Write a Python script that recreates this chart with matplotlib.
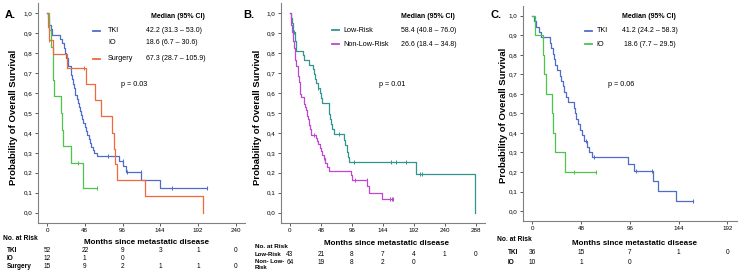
import numpy as np
import matplotlib
matplotlib.use("Agg")
import matplotlib.pyplot as plt
import matplotlib.transforms as mtransforms
from matplotlib.lines import Line2D

plt.rcParams['font.family'] = ['Liberation Sans', 'DejaVu Sans']

# ---- data ----
# panel A
a_tki_t = [1, 2, 3, 5, 6, 17, 19, 21, 23, 24, 26, 27, 30, 31, 32, 33, 34, 35, 36, 38, 39, 40,
           42, 43, 45, 46, 48, 50, 51, 53, 54, 56, 58, 60, 63, 92, 97, 101, 120, 144]
a_tki_s = [0.98, 0.96, 0.94, 0.92, 0.893, 0.873, 0.854, 0.827, 0.80, 0.776, 0.755, 0.735, 0.714,
           0.69, 0.67, 0.645, 0.626, 0.607, 0.588, 0.569, 0.55, 0.53, 0.51, 0.49, 0.47, 0.45,
           0.43, 0.41, 0.39, 0.37, 0.35, 0.33, 0.315, 0.30, 0.285, 0.26, 0.235, 0.205, 0.163, 0.125]
a_tki_c = [77, 96, 102, 119, 159, 203]
a_io_t = [2, 5, 7, 8, 9, 18, 19, 20, 30, 46]
a_io_s = [0.917, 0.833, 0.75, 0.667, 0.583, 0.5, 0.417, 0.333, 0.25, 0.125]
a_io_c = [39, 63]
a_sur_t = [1, 2, 7, 25, 49, 61, 68, 83, 85, 87, 89, 125, 199]
a_sur_s = [0.933, 0.867, 0.795, 0.724, 0.644, 0.565, 0.483, 0.40, 0.32, 0.245, 0.163, 0.081, 0.0]
a_sur_c = [3, 47]

# panel B
b_low_t = [1, 3, 4, 5, 7, 8, 9, 10, 20, 22, 29, 35, 37, 39, 41, 43, 46, 48, 49, 60,
           61, 62, 63, 65, 69, 83, 85, 88, 90, 91, 196, 287]
b_low_s = [0.977, 0.953, 0.93, 0.907, 0.883, 0.86, 0.836, 0.813, 0.79, 0.766, 0.743, 0.72,
           0.696, 0.673, 0.65, 0.626, 0.60, 0.576, 0.55, 0.522, 0.497, 0.47, 0.445, 0.42,
           0.394, 0.364, 0.339, 0.306, 0.278, 0.252, 0.193, 0.0]
b_low_c = [6, 44, 76, 100, 156, 165, 180, 202, 205]
b_non_t = [1, 2, 3, 4, 5, 6, 7, 8, 10, 12, 13, 14, 15, 16, 17, 21, 22, 24, 25, 26, 27, 28,
           29, 30, 31, 32, 33, 40, 42, 44, 46, 48, 50, 52, 55, 58, 61, 94, 96, 120, 123, 143]
b_non_s = [0.97, 0.94, 0.906, 0.875, 0.86, 0.828, 0.797, 0.766, 0.734, 0.703, 0.688, 0.656,
           0.625, 0.594, 0.578, 0.562, 0.547, 0.531, 0.515, 0.50, 0.484, 0.469, 0.453, 0.438,
           0.422, 0.406, 0.39, 0.374, 0.358, 0.342, 0.326, 0.31, 0.29, 0.272, 0.25, 0.23,
           0.208, 0.187, 0.165, 0.133, 0.10, 0.068]
b_non_c = [37, 53, 101, 119, 155, 158, 160]

# panel C
c_tki_t = [2, 4, 6, 8, 17.5, 18.5, 20, 21, 22, 24, 27, 28, 30, 31, 33, 35, 41, 42, 43, 45,
           47, 49, 51, 54, 56, 59, 94, 100, 119, 124, 141]
c_tki_s = [0.972, 0.944, 0.917, 0.889, 0.861, 0.833, 0.806, 0.778, 0.75, 0.722, 0.694, 0.667,
           0.639, 0.611, 0.583, 0.556, 0.528, 0.5, 0.472, 0.444, 0.417, 0.389, 0.361, 0.33,
           0.303, 0.275, 0.24, 0.205, 0.154, 0.103, 0.051]
c_tki_c = [53, 61, 102, 118, 158]
c_io_t = [3, 10, 11, 13, 19, 20, 22, 32]
c_io_s = [0.9, 0.8, 0.7, 0.6, 0.5, 0.4, 0.3, 0.2]
c_io_c = [41, 63]

# numbers at risk
a_ticks = [0, 48, 96, 144, 192, 240]
a_risk = {"TKI": [52, 22, 9, 3, 1, 0], "IO": [12, 1, 0], "Surgery": [15, 9, 2, 1, 1, 0]}
b_ticks = [0, 48, 96, 144, 192, 240, 288]
b_risk = {"Low-Risk": [43, 21, 8, 7, 4, 1, 0], "Non-Low-Risk": [64, 19, 8, 2, 0]}
c_ticks = [0, 48, 96, 144, 192]
c_risk = {"TKI": [36, 15, 7, 1, 0], "IO": [10, 1, 0]}

a_median = ["42.2 (31.3 \u2013 53.0)", "18.6 (6.7 \u2013 30.6)", "67.3 (28.7 \u2013 105.9)"]
b_median = ["58.4 (40.8 \u2013 76.0)", "26.6 (18.4 \u2013 34.8)"]
c_median = ["41.2 (24.2 \u2013 58.3)", " 18.6 (7.7 \u2013 29.5)"]

BLUE = '#4f6cc8'
GREEN = '#4cc54c'
ORANGE = '#f0683e'
TEAL = '#2e968e'
MAGENTA = '#bf45d2'

W, H = 750, 274
fig = plt.figure(figsize=(7.5, 2.74), dpi=100)


def fx(p):
    return p / W


def fy(p):
    return 1 - p / H


def km(ax, t, s, cens, color):
    t = np.array([0] + list(t), dtype=float)
    s = np.array([1.0] + list(s))
    end = max(t[-1], max(cens))
    ax.step(np.append(t, end), np.append(s, s[-1]), where='post', color=color, lw=0.9)
    idx = np.searchsorted(t, cens, side='right') - 1
    ax.plot(cens, s[idx], ls='none', marker='|', ms=3.2, mew=0.7, color=color)


def setup(ax, ticks):
    for sp in ['top', 'right']:
        ax.spines[sp].set_visible(False)
    for sp in ['left', 'bottom']:
        ax.spines[sp].set_color('#808080')
        ax.spines[sp].set_linewidth(0.8)
    span = ticks[-1]
    ax.set_xlim(-0.05 * span, 1.05 * span)
    ax.set_ylim(-0.05, 1.05)
    ax.set_xticks(ticks)
    ax.set_yticks(np.arange(0, 1.01, 0.1))
    ax.set_yticklabels([f"{v:.1f}".replace('.', ',') for v in np.arange(0, 1.01, 0.1)])
    ax.tick_params(labelsize=4.5, length=2.5, width=0.6, pad=1.5, color='#404040')


def txt(x, y, s, **kw):
    fig.text(fx(x), fy(y), s, va='center', **kw)


def legline(x1, x2, y, color):
    fig.add_artist(Line2D([fx(x1), fx(x2)], [fy(y), fy(y)], color=color, lw=1.3,
                          transform=fig.transFigure))


def risk_row(ax, ticks, vals, y):
    tr = mtransforms.blended_transform_factory(ax.transData, fig.transFigure)
    for tk, v in zip(ticks, vals):
        ax.text(tk, fy(y), str(v), transform=tr, ha='center', va='center', fontsize=4.7,
                clip_on=False)


# ---- panel A ----
axA = fig.add_axes([fx(37.7), fy(222.5), fx(245 - 37.7), (222.5 - 3.5) / H])
setup(axA, a_ticks)
km(axA, a_tki_t, a_tki_s, a_tki_c, BLUE)
km(axA, a_io_t, a_io_s, a_io_c, GREEN)
km(axA, a_sur_t, a_sur_s, a_sur_c, ORANGE)
txt(5, 15, "A.", fontsize=8, fontweight='bold')
txt(14, 117, "Probability of Overall Survival", fontsize=6.8, fontweight='bold',
    rotation=90, ha='center')
txt(178, 16, "Median (95% CI)", fontsize=5, fontweight='bold', ha='center')
legline(93, 100, 31, BLUE)
legline(93, 100, 59, ORANGE)
for lab, med, y in zip(["TKI", "IO", "Surgery"], a_median, [31, 43, 59]):
    txt(108, y, lab, fontsize=5.2)
    txt(146, y, med, fontsize=5)
txt(121, 85, "p = 0.03", fontsize=5.2)
txt(146, 243, "Months since metastatic disease", fontsize=5.8, fontweight='bold', ha='center')
txt(3, 239, "No. at Risk", fontsize=4.8, fontweight='bold')
for (lab, vals), y in zip(a_risk.items(), [250.7, 258.3, 266]):
    txt(7, y, lab, fontsize=4.7, fontweight='bold')
    risk_row(axA, a_ticks, vals, y)

# ---- panel B ----
axB = fig.add_axes([fx(280.7), fy(222.5), fx(485 - 280.7), (222.5 - 3.5) / H])
setup(axB, b_ticks)
km(axB, b_low_t, b_low_s, b_low_c, TEAL)
km(axB, b_non_t, b_non_s, b_non_c, MAGENTA)
txt(243, 15, "B.", fontsize=8, fontweight='bold')
txt(258, 117, "Probability of Overall Survival", fontsize=6.8, fontweight='bold',
    rotation=90, ha='center')
txt(428, 16, "Median (95% CI)", fontsize=5, fontweight='bold', ha='center')
legline(332, 339, 30, TEAL)
legline(332, 339, 44, MAGENTA)
for lab, med, y in zip(["Low-Risk", "Non-Low-Risk"], b_median, [30, 44]):
    txt(343, y, lab, fontsize=5.2)
    txt(400.7, y, med, fontsize=5)
txt(379, 85, "p = 0.01", fontsize=5.2)
txt(386.7, 243.3, "Months since metastatic disease", fontsize=5.8, fontweight='bold',
    ha='center')
txt(255, 246, "No. at Risk", fontsize=4.6, fontweight='bold')
txt(255, 255, "Low-Risk", fontsize=4.3, fontweight='bold')
txt(255, 261.5, "Non- Low-", fontsize=4.3, fontweight='bold')
txt(255, 267.5, "Risk", fontsize=4.3, fontweight='bold')
risk_row(axB, b_ticks, b_risk["Low-Risk"], 255)
risk_row(axB, b_ticks, b_risk["Non-Low-Risk"], 262)

# ---- panel C ----
axC = fig.add_axes([fx(522.7), fy(220.8), fx(737 - 522.7), (220.8 - 6) / H])
setup(axC, c_ticks)
km(axC, c_tki_t, c_tki_s, c_tki_c, BLUE)
km(axC, c_io_t, c_io_s, c_io_c, GREEN)
txt(491, 15, "C.", fontsize=8, fontweight='bold')
txt(503, 115, "Probability of Overall Survival", fontsize=6.8, fontweight='bold',
    rotation=90, ha='center')
txt(649, 16, "Median (95% CI)", fontsize=5, fontweight='bold', ha='center')
legline(585, 592, 31, BLUE)
legline(585, 592, 44, GREEN)
for lab, med, y in zip(["TKI", "IO"], c_median, [31, 44]):
    txt(596.7, y, lab, fontsize=5.2)
    txt(622, y, med, fontsize=5)
txt(608, 85, "p = 0.06", fontsize=5.2)
txt(634, 243.3, "Months since metastatic disease", fontsize=5.8, fontweight='bold',
    ha='center')
txt(497, 239.3, "No. at Risk", fontsize=4.8, fontweight='bold')
for (lab, vals), y in zip(c_risk.items(), [252.7, 262.3]):
    txt(508, y, lab, fontsize=4.7, fontweight='bold')
    risk_row(axC, c_ticks, vals, y)

fig.savefig("out.png", dpi=100)
